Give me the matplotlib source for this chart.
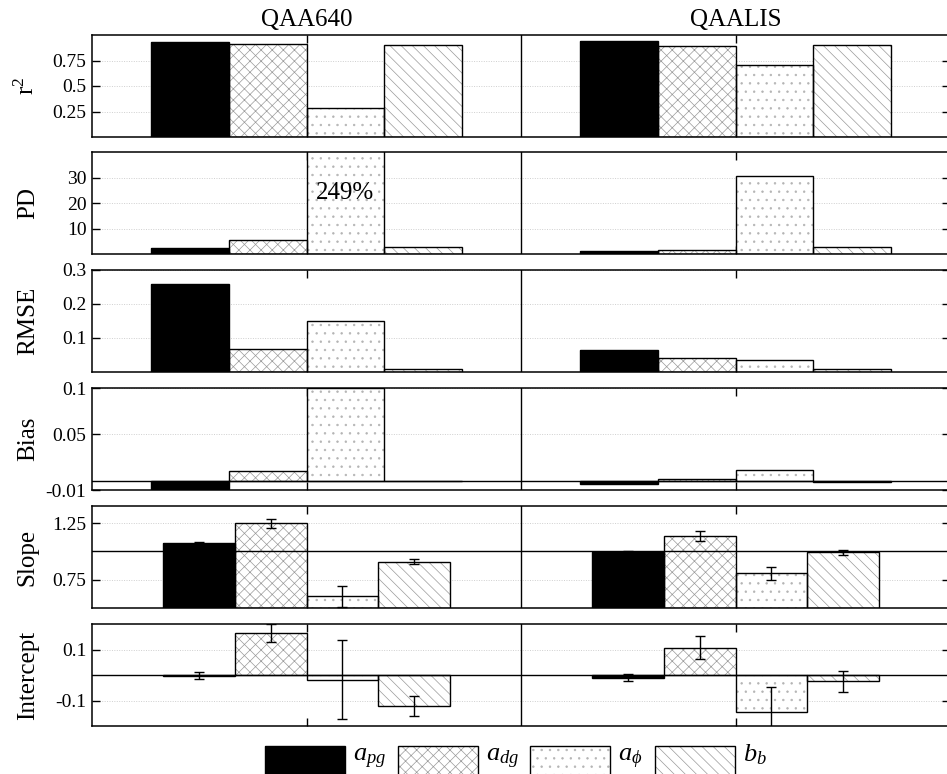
import matplotlib
matplotlib.use("Agg")
import matplotlib.pyplot as plt
import matplotlib.patches as mpatches
import numpy as np

plt.rcParams['font.family'] = ['Liberation Serif', 'DejaVu Serif']
plt.rcParams['mathtext.fontset'] = 'custom'
plt.rcParams['mathtext.rm'] = 'Liberation Serif'
plt.rcParams['mathtext.it'] = 'Liberation Serif:italic'
plt.rcParams['hatch.linewidth'] = 0.5

# ---- data ----
groups = ["QAA640", "QAALIS"]
params = ["$a_{pg}$", "$a_{dg}$", "$a_{\\phi}$", "$b_b$"]

r2_640 = [0.935, 0.915, 0.28, 0.90]
r2_lis = [0.945, 0.893, 0.705, 0.905]
pd_640 = [2.2, 5.3, 249, 2.8]
pd_lis = [1.0, 1.5, 30.5, 2.6]
rmse_640 = [0.258, 0.069, 0.149, 0.010]
rmse_lis = [0.066, 0.041, 0.035, 0.009]
bias_640 = [-0.009, 0.0103, 0.100, -0.0005]
bias_lis = [-0.0036, 0.0014, 0.0118, -0.001]
slope_640 = [1.07, 1.247, 0.603, 0.909]
slope_err_640 = [0.01, 0.04, 0.09, 0.02]
slope_lis = [0.995, 1.132, 0.806, 0.99]
slope_err_lis = [0.005, 0.045, 0.055, 0.02]
icpt_640 = [-0.003, 0.165, -0.018, -0.122]
icpt_err_640 = [0.013, 0.034, 0.155, 0.038]
icpt_lis = [-0.01, 0.106, -0.145, -0.025]
icpt_err_lis = [0.014, 0.045, 0.096, 0.04]

panels = [
    ("r$^2$", r2_640, r2_lis, None, None, (0, 1), [0.25, 0.5, 0.75], ["0.25", "0.5", "0.75"], None),
    ("PD", pd_640, pd_lis, None, None, (0, 40), [10, 20, 30], ["10", "20", "30"], None),
    ("RMSE", rmse_640, rmse_lis, None, None, (0, 0.3), [0.1, 0.2, 0.3], ["0.1", "0.2", "0.3"], None),
    ("Bias", bias_640, bias_lis, None, None, (-0.01, 0.1), [-0.01, 0.05, 0.1], ["-0.01", "0.05", "0.1"], 0),
    ("Slope", slope_640, slope_lis, slope_err_640, slope_err_lis, (0.5, 1.4), [0.75, 1.25], ["0.75", "1.25"], 1),
    ("Intercept", icpt_640, icpt_lis, icpt_err_640, icpt_err_lis, (-0.2, 0.2), [-0.1, 0.1], ["-0.1", "0.1"], 0),
]

fills = ["black", "white", "white", "white"]
hatches = [None, "xxx", "..", "\\\\\\"]
hatch_cols = ["black", "#9a9a9a", "#b4b4b4", "#9a9a9a"]

W, H = 947, 774
fig = plt.figure(figsize=(W / 100, H / 100), dpi=100)

left_px, right_px = 92, 950
tops = [35, 152, 270, 388, 506, 624]
h_px = 102

for i, (lab, v1, v2, e1, e2, ylim, yt, ytl, hline) in enumerate(panels):
    ax = fig.add_axes([left_px / W, 1 - (tops[i] + h_px) / H,
                       (right_px - left_px) / W, h_px / H])
    w = 0.181 if i < 4 else 0.167
    base = ylim[0] if lab == "Slope" else 0
    for g, (vals, errs) in enumerate([(v1, e1), (v2, e2)]):
        centre = g + 1
        for k in range(4):
            x = centre + (k - 1.5) * w
            hgt = vals[k] - base
            ax.bar(x, hgt, width=w, bottom=base, color=fills[k], hatch=hatches[k],
                   edgecolor=hatch_cols[k], linewidth=0, zorder=2)
            ax.bar(x, hgt, width=w, bottom=base, fill=False, edgecolor="black",
                   linewidth=1.0, zorder=3)
            if errs is not None:
                ax.errorbar(x, vals[k], yerr=errs[k], color="black", lw=1.0,
                            capsize=3.5, capthick=1.0, zorder=4)
    if hline is not None:
        ax.axhline(hline, color="black", lw=1.0, zorder=3.5)
    ax.axvline(1.5, color="black", lw=1.0, zorder=5)
    ax.set_xlim(0.5, 2.5)
    ax.set_ylim(*ylim)
    ax.set_yticks(yt)
    ax.set_yticklabels(ytl, fontsize=14)
    ax.set_xticks([1, 2])
    ax.set_xticklabels([])
    ax.tick_params(direction="in", length=6, width=1, top=True, bottom=True,
                   left=True, right=True, pad=4)
    for t in yt:
        if t > ylim[0]:
            ax.axhline(t, color="#cfcfcf", lw=0.7, ls=(0, (1, 1.5)), zorder=1)
    for s in ax.spines.values():
        s.set_linewidth(1.1)
    ax.set_ylabel(lab, fontsize=18)
    ax.yaxis.set_label_coords(-0.062, 0.5)
    if i == 0:
        for g, name in enumerate(groups):
            ax.text(g + 1, 1.04, name, transform=ax.get_xaxis_transform(),
                    ha="center", va="bottom", fontsize=18)
    if lab == "PD":
        ax.text(1.09, 24, "249%", ha="center", va="center", fontsize=18, zorder=6)

# legend drawn by hand along the bottom edge (boxes run off the page as in the original)
box_x = [265, 398, 530, 655]
box_w = 80
for k in range(4):
    fig.patches.append(mpatches.Rectangle(
        (box_x[k] / W, 1 - 778 / H), box_w / W, 32 / H, transform=fig.transFigure,
        facecolor=fills[k], hatch=hatches[k], edgecolor=hatch_cols[k], linewidth=0))
    fig.patches.append(mpatches.Rectangle(
        (box_x[k] / W, 1 - 778 / H), box_w / W, 32 / H, transform=fig.transFigure,
        fill=False, edgecolor="black", linewidth=1.0))
    fig.text((box_x[k] + box_w + 8) / W, 1 - 761 / H, params[k],
             fontsize=19, ha="left", va="baseline")

fig.savefig("out.png", dpi=100)
